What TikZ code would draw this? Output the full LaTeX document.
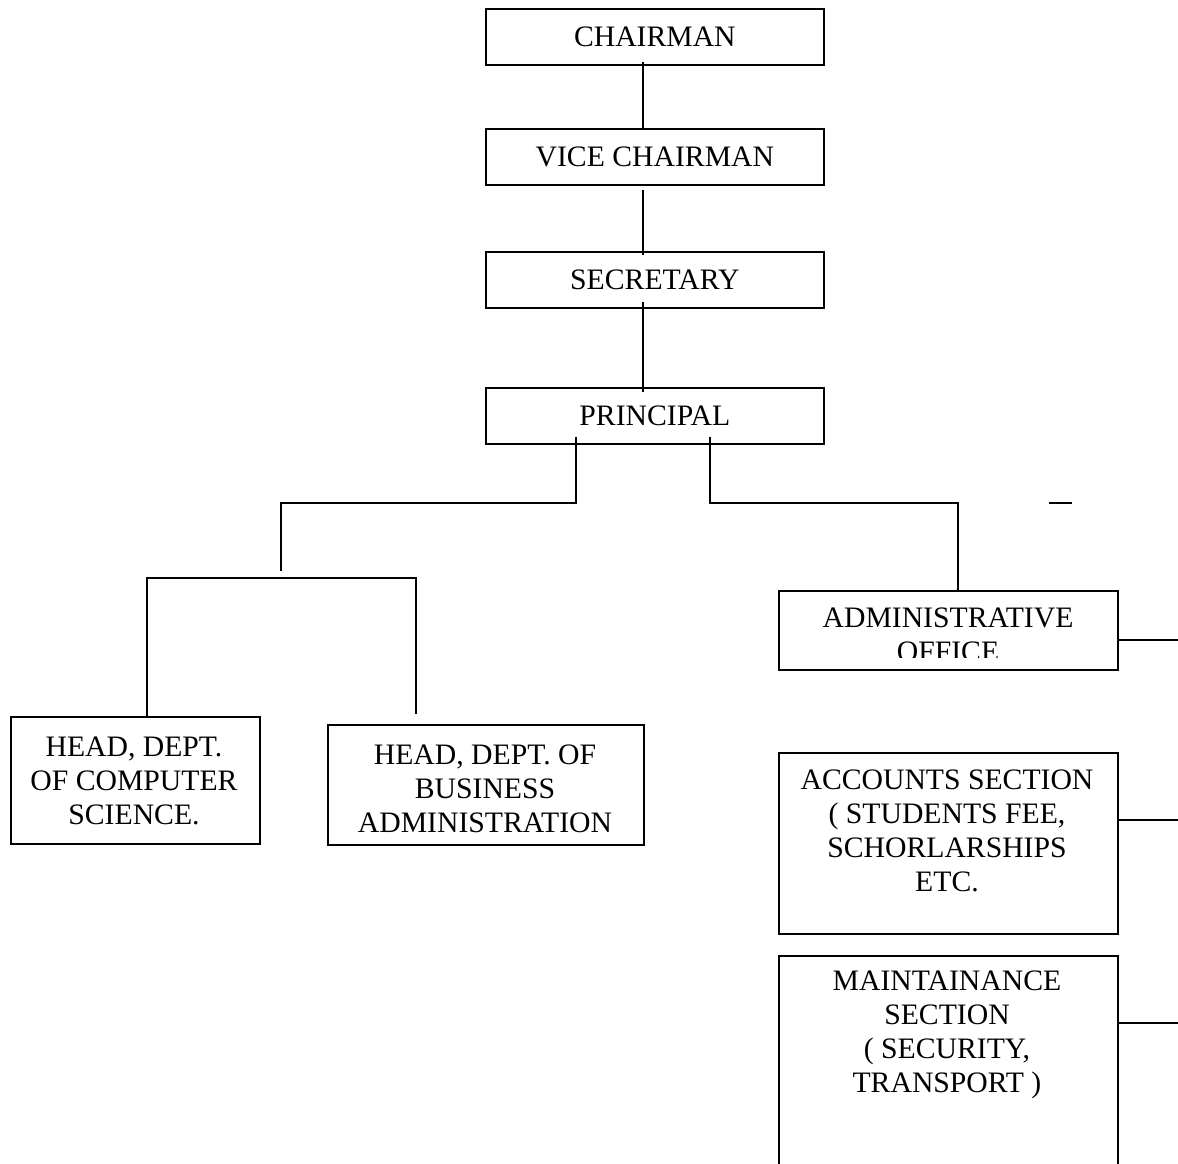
\documentclass[tikz,border=0pt]{standalone}
\usepackage{fontspec}
\setmainfont{Liberation Serif}
\usetikzlibrary{calc}
\begin{document}
\begin{tikzpicture}[x=1pt,y=-1pt,
  box/.style={draw,line width=1.7pt,rectangle,inner sep=0pt,anchor=north west},
  lbl/.style={font=\fontsize{29.7}{34}\selectfont,align=center,inner sep=0pt},
  conn/.style={line width=1.7pt}]
\clip (0,0) rectangle (1178,1164);
\fill[white] (0,0) rectangle (1178,1164);

% top chain
\node[box,minimum width=338pt,minimum height=56pt] (ch) at (485,8) {};
\node[lbl] (tch) at (ch.center) {CHAIRMAN};
\node[box,minimum width=338pt,minimum height=56pt] (vc) at (485,128) {};
\node[lbl] (tvc) at (vc.center) {VICE CHAIRMAN};
\node[box,minimum width=338pt,minimum height=56pt] (sec) at (485,251) {};
\node[lbl] (tsec) at (sec.center) {SECRETARY};
\node[box,minimum width=338pt,minimum height=56pt] (pr) at (485,387) {};
\node[lbl] (tpr) at (pr.center) {PRINCIPAL};

% departments
\node[box,minimum width=249pt,minimum height=127pt] (cs) at (10,716) {};
\node[lbl] (tcs) at (134,781) {HEAD, DEPT.\\OF COMPUTER\\SCIENCE.};
\node[box,minimum width=316pt,minimum height=120pt] (ba) at (327,724) {};
\node[lbl] (tba) at (485,789) {HEAD, DEPT. OF\\BUSINESS\\ADMINISTRATION};

% right column
\node[box,minimum width=339pt,minimum height=79pt] (ad) at (778,590) {};
\begin{scope}
  \clip (778,590) rectangle (1117,657);
  \node[lbl] (tad) at (948,635) {ADMINISTRATIVE\\OFFICE};
\end{scope}
\node[box,minimum width=339pt,minimum height=181pt] (ac) at (778,752) {};
\node[lbl] (tac) at (947,831) {ACCOUNTS SECTION\\( STUDENTS FEE,\\SCHORLARSHIPS\\ETC.};
\node[box,minimum width=339pt,minimum height=260pt] (mn) at (778,955) {};
\node[lbl] (tmn) at (947,1035) {MAINTAINANCE\\SECTION\\( SECURITY,\\TRANSPORT )};

% connectors
\coordinate (spine) at (643,0);
\draw[conn] ($(ch.south -| spine)+(0,-4)$) -- (vc.north -| spine);
\draw[conn] ($(vc.south -| spine)+(0,4)$) -- ($(sec.north -| spine)+(0,4)$);
\draw[conn] ($(sec.south -| spine)+(0,-7)$) -- ($(pr.north -| spine)+(0,5)$);

\coordinate (pl) at (576,0);
\coordinate (prr) at (710,0);
\coordinate (lj) at (281,503);
\coordinate (lend) at (281,571);
\coordinate (bar) at (147,578);
\coordinate (bar2) at (416,578);
\draw[conn] ($(pr.south -| pl)+(0,-8)$) |- (lj) -- (lend);
\draw[conn] (bar |- cs.north) -- (bar) -- (bar2) -- ($(bar2 |- ba.north)+(0,-10)$);
\coordinate (rj) at (958,503);
\draw[conn] ($(pr.south -| prr)+(0,-8)$) |- (rj) -- (rj |- ad.north);

\coordinate (d1) at (1049,503);
\coordinate (d2) at (1072,503);
\draw[conn] (d1) -- (d2);

\coordinate (e1) at (1178,640);
\coordinate (e2) at (1178,820);
\coordinate (e3) at (1178,1023);
\draw[conn] (ad.east |- e1) -- (e1);
\draw[conn] (ac.east |- e2) -- (e2);
\draw[conn] (mn.east |- e3) -- (e3);
\end{tikzpicture}
\end{document}
